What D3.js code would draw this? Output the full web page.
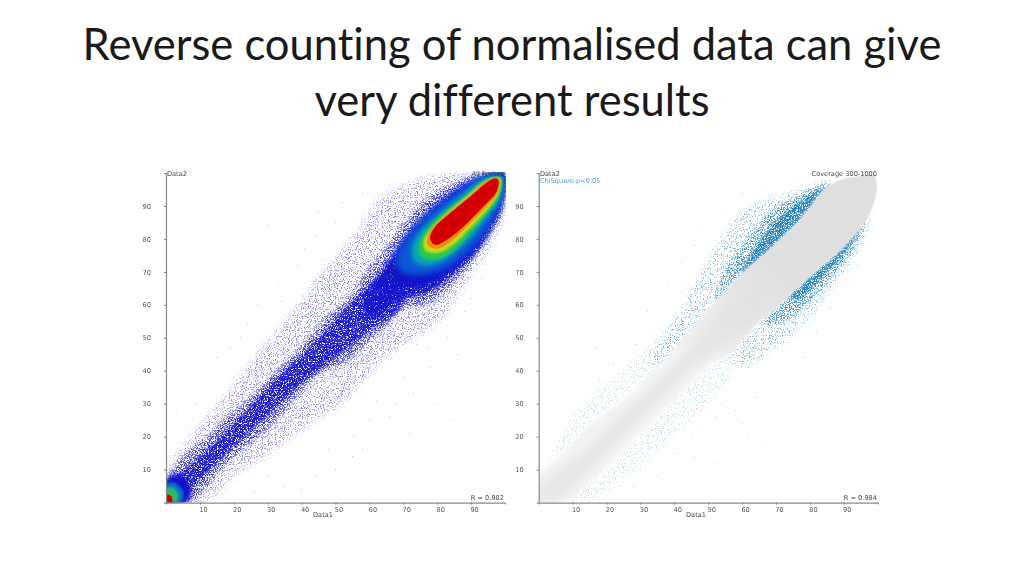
<!DOCTYPE html>
<html><head><meta charset="utf-8">
<script src="https://cdn.jsdelivr.net/npm/d3@7"></script>
<style>
html,body{margin:0;padding:0;background:#fff;overflow:hidden}
svg{display:block}
.title{font-family:Lato,"Open Sans",sans-serif;font-size:43.5px;fill:#1a1a1a;text-anchor:middle;font-variant-ligatures:none;font-feature-settings:"liga" 0}
.lbl{font-family:"DejaVu Sans",sans-serif;font-size:6.6px;fill:#555}
.tick text{font-family:"DejaVu Sans",sans-serif;font-size:6.6px;fill:#555}
</style></head><body>
<svg id="c" width="1024" height="576"></svg>
<script>
const titleLines=["Reverse counting of normalised data can give","very different results"];
const xTicks=[10,20,30,40,50,60,70,80,90];
const yTicks=[10,20,30,40,50,60,70,80,90];

// LEFT PANEL: density contours, [Data1, Data2]
const leftSparse=[[0,8],[5,17],[18,33],[27,45],[36,56],[44.4,68],[56,81.7],[64,92.8],[78,98.9],[97.5,100],[100,100],[100,90],[97,80],[87.7,65.5],[80.8,55.4],[67,46],[60,39],[53,31],[44,25],[32,16],[19,7],[12,0.5],[0,0]];
const leftBand=[[0,7],[6.1,15],[12,20],[17.9,26],[23.8,31],[28.7,36],[34.6,42],[39.5,47],[47.4,56.4],[54.3,62.5],[60.2,71.6],[66,78.7],[71,85.7],[77.9,92.8],[84.8,96.9],[91.6,99.5],[99.5,100],[100,93.8],[98.5,86],[94.6,79.7],[90.7,73.6],[86.7,68.6],[81.8,63.5],[76.9,60],[69,58.5],[66,54.4],[59.2,48.3],[53.3,42.8],[45.4,39.2],[37.6,31.2],[31.7,24],[23.8,17],[16.9,10.9],[12,4.9],[7.1,0.3],[0,0.3]];
const leftRidge=[[3,0.5],[10,7],[20,17],[30,26.5],[40,36],[50,44],[60,52],[70,60],[68,72],[60,66],[52,58],[45,50],[38,43],[30,35],[20,24],[10,14],[0,4]];
const leftBulk=[[99.7,100],[99.5,92],[96.5,84],[91.5,76],[85,69.5],[78,64],[68,61],[61,56],[58,60],[62,68],[68,77],[74,85],[82,92.5],[91,98]];
const leftSolid=[[99.5,99.5],[99,92],[96,85],[91,77],[85,71],[78,66.5],[71,66],[67,69],[69,76],[74,83],[81,90],[89,96]];
const leftLightBlue=[[99.3,99.5],[99,92],[96,85],[91,78],[85,72.5],[78,69.5],[71,69.5],[68,72],[69,77],[73,83],[79,89],[87,95],[94,99]];
const leftTeal=[[99,99],[98.5,92],[95,87],[90,80.5],[84,75],[78,72],[73.5,73],[72.5,77],[75,82],[81,88],[88,94],[94,98.5]];
const leftGreen=[[98.8,98.5],[98.3,93],[95,88],[90,82],[85,76.5],[80,73.8],[75.5,74.5],[74.5,78],[77,83],[82,88],[89,93.5],[95,98.2]];
const leftYellow=[[98.6,98.3],[98,93.5],[94.5,88.5],[89.5,83],[84.5,78],[80,75.7],[76.5,76.5],[76,79.5],[78.5,83.5],[83,88],[89,93.2],[95,98]];
const leftOrange=[[98.3,98.2],[97.8,94],[94,89.2],[88.5,83.5],[83.5,78.8],[79.7,77],[77.3,78],[77.2,80.5],[79,83.7],[83.5,88],[89.5,93],[95,97.8]];
const leftRed=[[98,97.9],[97.5,94.3],[93.6,89.8],[87.7,83.7],[82.8,79.7],[79.4,78.2],[77.9,80.2],[79.4,83.7],[83.8,87.8],[89.7,92.8],[95.1,97.4],[97.1,98.4]];
const originBlue=[[0,0],[6,0],[7.5,4],[4,8.5],[0,7]];
const originTeal=[[0,0],[4.5,0],[5,3.5],[2.5,6],[0,5.5]];
const originGreen=[[0,0],[3.2,0],[3.5,2.8],[2,4.5],[0,4.2]];
const originRed=[[0,0],[1.7,0],[1.8,1.5],[1,2.3],[0,2.3]];
const leftSpecks=[[3,28],[6,22],[9,30],[12,36],[15,44],[19,47],[24,54],[27,60],[33,66],[34,61],[39,72],[41,77],[30,84],[44,81],[47,74],[50,85],[36,68],[22,50],[52,91],[58,94],[45,88],[20,38],[15,28],[8,25],[13,18],
[55,20],[60,25],[62,31],[65,36],[70,38],[73,33],[78,41],[80,30],[84,25],[77,47],[83,50],[88,58],[90,62],[93,68],[95,72],[68,30],[58,16],[50,10],[44,8],[40,4],[35,5],[30,8],[26,3],[63,19],[72,21],[48,16],[55,14],[66,26],[74,48],[86,45]];

// RIGHT PANEL
const rightGrey=[[0,7.9],[6.3,14],[16,24],[26,32],[36,42],[44.6,52.4],[54.5,63.5],[62.3,71.6],[70.2,78.7],[78,86.8],[86,96.4],[93.8,98.9],[98.7,99.3],[99.7,95.9],[97.2,86.8],[89.9,77.7],[80,68.6],[70.2,59.5],[64.3,54.4],[56.4,45.3],[50.3,42],[40.5,32],[30.7,22],[20.9,12],[11,1.8],[8.3,0.3],[0,0.3]];
const rightGreyCore=[[0,4],[14,16],[26,28],[38,40],[48,51],[58,62],[64,66],[66,58],[60,52],[50,45],[40,35.5],[28,23.5],[16,11],[5,0.5],[0,0.5]];
const upperSparse=[[33,42],[41,57],[50.5,74.6],[60.4,88.8],[73,93.8],[86.4,97.4],[78,86.8],[70.2,78.7],[62.3,71.6],[54.5,63.5],[44.6,52.4],[36,42]];
const upperMid=[[52,61],[54,69],[60,78],[66,86],[74,92],[86,97],[78,86.8],[70.2,78.7],[62.3,71.6],[54.5,63.5]];
const upperDense=[[60,70],[63,76],[68,83],[74,89],[84,95.5],[78,86.8],[70.2,78.7],[64,72.5]];
const lowerSparse=[[56,44],[64,54],[74,63],[85,74],[97.7,86.8],[94,76],[86,64],[80,56],[70,47],[60,41]];
const lowerMid=[[66,54],[70.2,59.5],[80,68.6],[89.9,77.7],[96.8,86.8],[93,77],[87,69],[80,61],[73,55]];
const lowerDense=[[74,62.5],[80,68.6],[89.9,77.7],[95,84],[91,76.5],[86,71],[80,64.5],[76,61.5]];
const faintUpper=[[1,10],[6.3,15],[16,25],[26,33],[36,43],[44.6,53.4],[41,56],[32,47],[22,38],[12,28],[6,19]];
const faintLower=[[11,1],[20.9,11.5],[30.7,21.5],[40.5,31.5],[50.3,41.5],[56,44.5],[56,38],[46,26],[34,15],[22,5],[14,0.5]];
const rightSpecks=[[6,19],[10,27],[14,32],[18,37],[22,42],[25,39],[29,48],[17,47],[32,58],[38,67],[42,73],[46,78],[55,88],[60,94],[66,96],[47,84],[34,52],[21,31],
[45,20],[48,22],[52,26],[54,30],[58,28],[60,24],[62,20],[64,32],[68,36],[70,42],[72,46],[76,50],[82,52],[86,59],[90,66],[94,72],[40,15],[35,8],[28,5],[52,12],[67,18],[46,14],[55,37],[62,41],[78,44],[38,22],[43,29],[30,10],[24,5],[17,3]];

const svg=d3.select("#c");
const defs=svg.append("defs");
function grain(id,k,c,freq,seed,soft){
  const f=defs.append("filter").attr("id",id).attr("filterUnits","userSpaceOnUse")
    .attr("x",0).attr("y",0).attr("width",1024).attr("height",576)
    .attr("color-interpolation-filters","sRGB");
  f.append("feTurbulence").attr("type","fractalNoise").attr("baseFrequency",freq).attr("numOctaves",2).attr("seed",seed).attr("result","n");
  f.append("feColorMatrix").attr("in","n").attr("type","matrix")
    .attr("values",`0 0 0 0 0 0 0 0 0 0 0 0 0 0 0 ${k} 0 0 0 ${c}`).attr("result","m");
  f.append("feGaussianBlur").attr("in","m").attr("stdDeviation",0.4).attr("result","mb");
  f.append("feGaussianBlur").attr("in","SourceAlpha").attr("stdDeviation",soft).attr("result","sa");
  f.append("feComposite").attr("in","mb").attr("in2","sa").attr("operator","in").attr("result","maskA");
  f.append("feFlood").attr("flood-color",id.includes("R")?"#2a85bd":"#1616cc").attr("result","col");
  f.append("feComposite").attr("in","col").attr("in2","maskA").attr("operator","in");
}
grain("gSparse",10,-5.4,0.85,3,3.5);
grain("gMid",10,-4.7,0.85,7,2.2);
grain("gDense",9,-3.6,0.85,11,1.6);
grain("gBulk",9,-2.9,0.85,5,2);
grain("gSparseR",10,-5.7,0.85,3,2.5);
grain("gMidR",10,-5.0,0.85,7,1.8);
grain("gDenseR",9,-3.6,0.85,11,1.2);
function blur(id,s){defs.append("filter").attr("id",id).attr("x","-30%").attr("y","-30%").attr("width","160%").attr("height","160%")
  .attr("color-interpolation-filters","sRGB").append("feGaussianBlur").attr("stdDeviation",s);}
blur("b3",3);blur("b2",2);blur("b1",1.1);blur("b05",0.6);blur("t",0.28);

const lg=defs.append("linearGradient").attr("id","greyGrad").attr("gradientUnits","userSpaceOnUse")
  .attr("x1",540).attr("y1",500).attr("x2",860).attr("y2",180);
[[0,"#e0e0e0",0],[0.45,"#e0e0e0",0],[0.72,"#e0e0e0",1],[1,"#dfdfdf",1]].forEach(s=>lg.append("stop").attr("offset",s[0]).attr("stop-color",s[1]).attr("stop-opacity",s[2]));

const title=svg.append("g");
title.selectAll("text").data(titleLines).join("text").attr("class","title")
  .attr("x",512).attr("y",(d,i)=>60+i*56).text(d=>d);

function panel(x0,clipId){
  const x=d3.scaleLinear().domain([0,100]).range([x0,x0+339]);
  const y=d3.scaleLinear().domain([0,100]).range([502.6,173]);
  defs.append("clipPath").attr("id",clipId).append("rect")
    .attr("x",x(0)).attr("y",y(100)-1).attr("width",x(100)-x(0)+1).attr("height",y(0)-y(100)+1);
  const g=svg.append("g");
  const plot=g.append("g").attr("clip-path",`url(#${clipId})`);
  const line=d3.line().x(d=>x(d[0])).y(d=>y(d[1])).curve(d3.curveCatmullRomClosed.alpha(0.5));
  const shape=(pts,fill,filter,op=1)=>plot.append("path").attr("d",line(pts)).attr("fill",fill)
     .attr("opacity",op).attr("filter",filter?`url(#${filter})`:null);
  const specks=(pts,fill,op)=>plot.append("g").selectAll("circle").data(pts).join("circle")
     .attr("cx",d=>x(d[0])).attr("cy",d=>y(d[1])).attr("r",0.55).attr("fill",fill).attr("opacity",op);
  const axG=g.append("g").attr("filter","url(#t)");
  axG.append("g").attr("transform",`translate(${x(0)},0)`)
    .call(d3.axisLeft(y).tickValues(yTicks).tickSize(2).tickPadding(13).tickFormat(d3.format("d")));
  const xAx=axG.append("g").attr("transform",`translate(0,${y(0)})`)
    .call(d3.axisBottom(x).tickValues(xTicks).tickSize(2).tickPadding(3).tickFormat(d3.format("d")));
  xAx.selectAll(".tick text").attr("dx",3);
  axG.selectAll(".domain").attr("stroke","#8a8a8a").attr("stroke-width",1.2);
  axG.selectAll(".tick line").attr("stroke","#777");
  const lab=(t,px,py,anchor="start",fill="#444")=>axG.append("text").attr("class","lbl")
     .attr("x",px).attr("y",py).attr("text-anchor",anchor).style("fill",fill).text(t);
  return {shape,specks,lab,x,y,plot};
}

// left
const L=panel(166,"cl");
L.specks(leftSpecks,"#7a7ae0",0.5);
L.shape(leftSparse,"#000","gSparse",0.45);
L.shape(leftBand,"#000","gMid",0.8);
L.shape(leftRidge,"#000","gDense",0.95);
L.shape(leftBulk,"#000","gBulk");
L.shape(leftSolid,"#1212c8","b2");
L.shape(leftLightBlue,"#0a5ad8","b3");
L.shape(leftTeal,"#08a8b4","b2");
L.shape(leftGreen,"#28c850","b1");
L.shape(leftYellow,"#c8d818","b1");
L.shape(leftOrange,"#f08c10","b05");
L.shape(leftRed,"#d20000","b05");
L.shape(originBlue,"#1212c8","b2");
L.shape(originTeal,"#0a70cc","b1");
L.shape(originGreen,"#30b868","b1");
L.shape(originRed,"#d20000","b05");
L.lab("Data2",167,176);
L.lab("All Probes",504,176,"end");
L.lab("R = 0.982",504,500,"end");
L.lab("Data1",323,517,"middle");

// right
const R=panel(538.7,"cr");
R.specks(rightSpecks,"#8fc0dc",0.7);
R.shape(faintUpper,"#000","gSparseR",0.25);
R.shape(faintLower,"#000","gSparseR",0.25);
R.shape(upperSparse,"#000","gSparseR",0.55);
R.shape(lowerSparse,"#000","gSparseR",0.55);
R.shape(upperMid,"#000","gMidR",0.8);
R.shape(lowerMid,"#000","gMidR",0.8);
R.shape(upperDense,"#000","gDenseR");
R.shape(lowerDense,"#000","gDenseR");
R.shape(rightGrey,"#f1f1f1","b2");
R.shape(rightGreyCore,"#e8e8e8","b3");
R.shape(rightGrey,"url(#greyGrad)","b05");
R.lab("Data2",540,176);
R.lab("ChiSquare p<0.05",540,183,"start","#5b9bd5");
R.lab("Coverage 300-1000",877,176,"end");
R.lab("R = 0.984",877,500,"end");
R.lab("Data1",696,517,"middle");
</script>
</body></html>
